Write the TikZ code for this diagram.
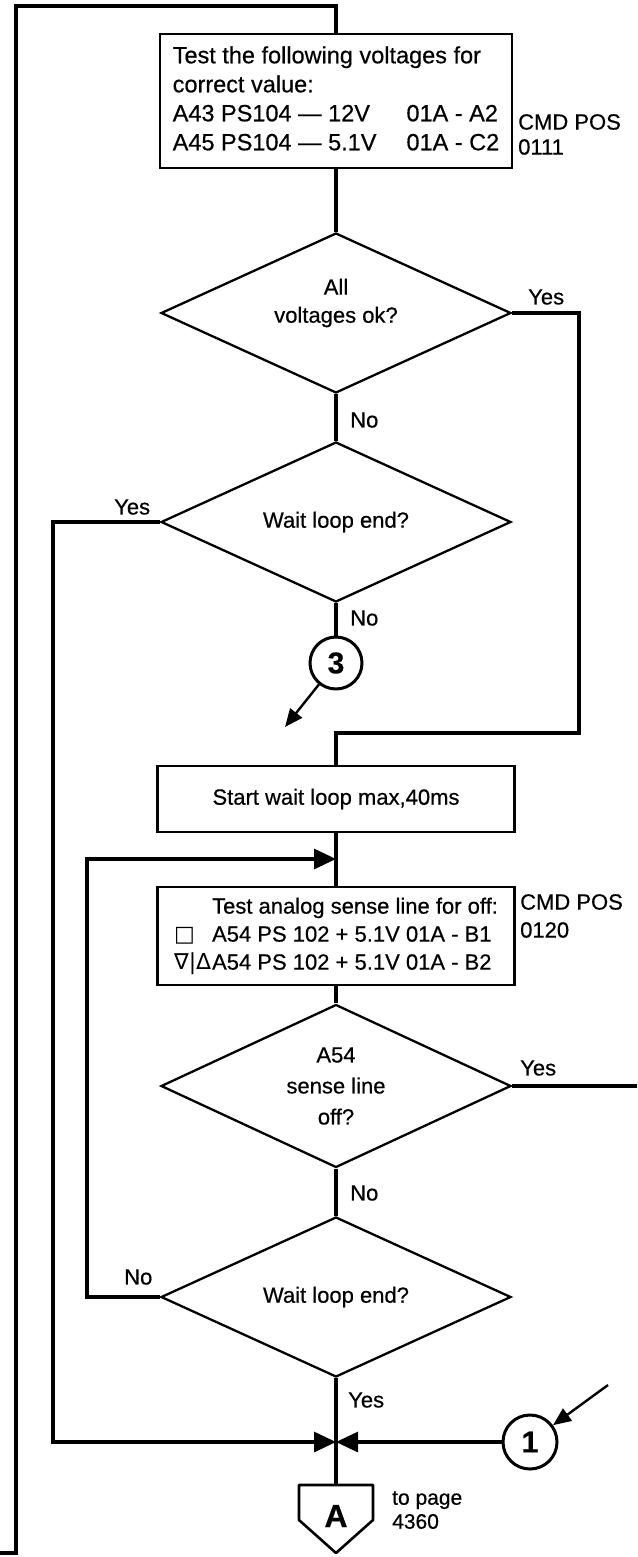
\documentclass[tikz,border=0pt]{standalone}
\usepackage{fontspec}
\setmainfont{Liberation Sans}[FakeBold=0.5]
\newfontfamily\symfont{DejaVu Sans}
\usetikzlibrary{shapes.geometric,arrows.meta,calc}
\begin{document}
\begin{tikzpicture}[x=1pt,y=-1pt,
  flow/.style={line width=3.2pt, line join=miter},
  shp/.style={draw, line width=2.3pt},
  proc/.style={shp, rectangle, inner sep=0pt, font=\fontsize{22}{28}\selectfont},
  dec/.style={shp, diamond, aspect=2.2, inner sep=0pt, minimum width=350pt, minimum height=160pt, align=center, font=\fontsize{22}{31}\selectfont},
  lbl/.style={font=\fontsize{22}{26}\selectfont, inner sep=0pt},
  conn/.style={draw, circle, line width=3pt, minimum size=52pt, inner sep=0pt, font=\bfseries\fontsize{30}{30}\selectfont},
  tip/.style={-{Triangle[length=22pt,width=20pt]}},
  smalltip/.style={-{Triangle[length=18pt,width=15pt]}},
]
\fill[white] (0,0) rectangle (637,1557);
\useasboundingbox (0,0) rectangle (637,1557);

% process boxes
\node[proc, minimum width=352pt, minimum height=134pt, font=\fontsize{23.5}{29}\selectfont] (b1) at (336,101) {%
\begin{tabular}{@{}l@{\hspace{30pt}}l@{}}
\multicolumn{2}{@{}l@{}}{Test the following voltages for}\\
\multicolumn{2}{@{}l@{}}{correct value:}\\
A43 PS104 — 12V & 01A - A2\\
A45 PS104 — 5.1V & 01A - C2
\end{tabular}};
\node[proc, minimum width=357pt, minimum height=66pt] (b2) at (336,799) {Start wait loop max,40ms};
\node[proc, minimum width=357pt, minimum height=98pt] (b3) at (336,936) {%
\begin{tabular}{@{}p{38pt}@{}l@{}}
 & Test analog sense line for off:\\
{\symfont □} & A54 PS 102 + 5.1V 01A - B1\\
{\symfont ∇|Δ} & A54 PS 102 + 5.1V 01A - B2
\end{tabular}\hspace{12pt}};

% side notes
\node[lbl, anchor=west] (cmd1) at (518,122) {CMD POS};
\node[lbl, anchor=west] (pos1) at (518,147) {0111};
\node[lbl, anchor=west] (cmd2) at (520,902) {CMD POS};
\node[lbl, anchor=west] (pos2) at (520,930) {0120};

% decisions
\node[dec] (d1) at (336,313) {};
\node[lbl, align=center, font=\fontsize{22}{28}\selectfont] (d1t) at (336,303) {All\\voltages ok?};
\node[dec] (d2) at (336,522) {Wait loop end?};
\node[dec, minimum height=163pt] (d3) at (336,1086) {A54\\sense line\\off?};
\node[dec] (d4) at (336,1297) {Wait loop end?};

% connectors (circles)
\node[conn] (c3) at (336,663) {3};
\node[conn, minimum size=54pt] (c1) at (530,1442) {1};

% branch labels
\node[lbl, anchor=west] (y1) at (528,297) {Yes};
\node[lbl, anchor=west] (n1) at (350,420) {No};
\node[lbl, anchor=west] (y2) at (114,507) {Yes};
\node[lbl, anchor=west] (n2) at (350,618) {No};
\node[lbl, anchor=west] (y3) at (520,1068) {Yes};
\node[lbl, anchor=west] (n3) at (350,1193) {No};
\node[lbl, anchor=west] (n4) at (124,1277) {No};
\node[lbl, anchor=west] (y4) at (348,1400) {Yes};

% off-page connector A
\coordinate (atop) at (336,1485);
\draw[shp, line width=2.6pt, line join=round] (299,1485) -- (373,1485) -- (373,1520) -- (336,1553) -- (299,1520) -- cycle;
\node[font=\bfseries\fontsize{32}{32}\selectfont, inner sep=0pt] (conA) at (336,1516) {A};
\node[lbl, anchor=west, align=left, font=\fontsize{21}{24}\selectfont] (tp) at (392,1510) {to page\\4360};

% coordinates
\coordinate (outerin) at (0,1553);
\coordinate (bl) at (16,1553);
\coordinate (tl) at (16,6);
\coordinate (r1) at (579,313);
\coordinate (r2) at (579,733);
\coordinate (r3) at (336,733);
\coordinate (l1) at (53,522);
\coordinate (l2) at (53,1442);
\coordinate (jn) at (336,1442);
\coordinate (c3tip) at (285,727);
\coordinate (m2) at (336,859);
\coordinate (k1) at (87,1297);
\coordinate (k2) at (87,859);
\coordinate (d3out) at (637,1086);
\coordinate (c1src) at (608,1385);

% flow lines
\draw[flow] (outerin) -- (bl) -- (tl) -- (tl -| b1.north) -- (b1.north);
\draw[flow] (b1.south) -- (d1.north);
\draw[flow] (d1.east) -- (r1) -- (r2) -- (r3) -- (b2.north);
\draw[flow] (d1.south) -- (d2.north);
\draw[flow, tip] (d2.west) -- (l1) -- (l2) -- (jn);
\draw[flow] (d2.south) -- (c3);
\draw[flow, line width=2.4pt, smalltip] (c3) -- (c3tip);
\draw[flow] (b2.south) -- (b3.north);
\draw[flow, tip] (d4.west) -- (k1) -- (k2) -- (m2);
\draw[flow] (b3.south) -- (d3.north);
\draw[flow] (d3.east) -- (d3out);
\draw[flow] (d3.south) -- (d4.north);
\draw[flow] (d4.south) -- (atop);
\draw[flow, tip] (c1) -- (jn);
\draw[flow, line width=2.4pt, smalltip] (c1src) -- (c1);
\end{tikzpicture}
\end{document}
